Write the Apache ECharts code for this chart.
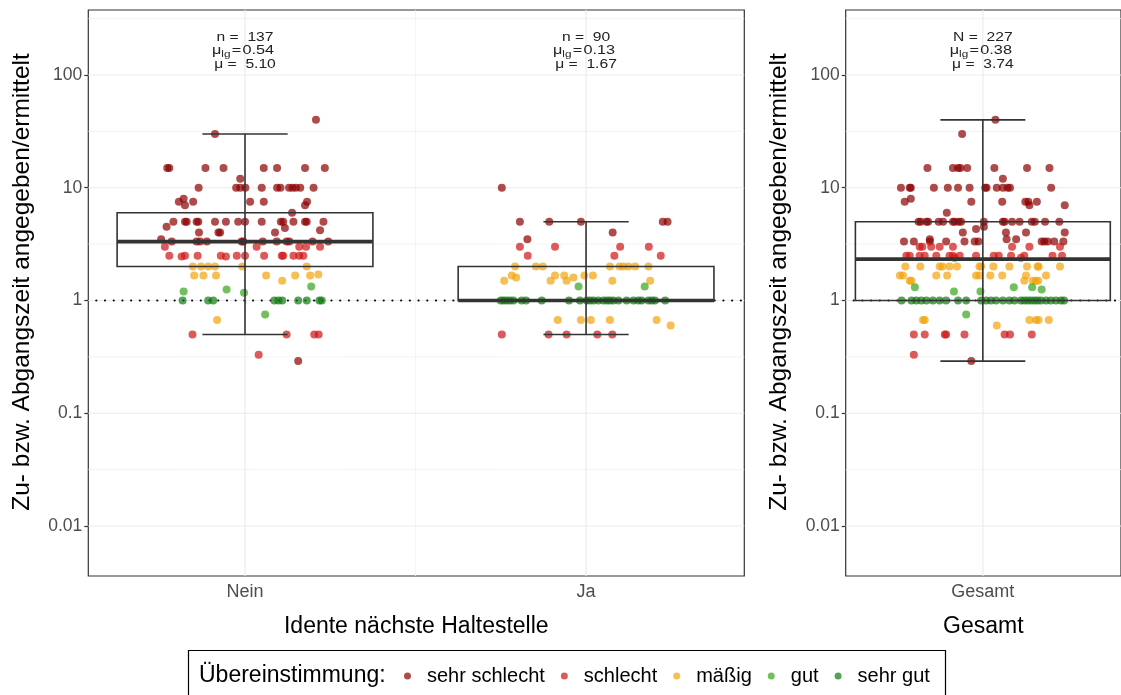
<!DOCTYPE html>
<html><head><meta charset="utf-8">
<script src="https://cdn.jsdelivr.net/npm/echarts@6/dist/echarts.min.js"></script>
<style>html,body{margin:0;padding:0;background:#fff}#c{width:1121px;height:695px}</style>
</head><body><div id="c"></div>
<script>
// ---------- data ----------
const categories = ['Nein', 'Ja'];
const totalCategory = ['Gesamt'];
const ratingNames = ['sehr schlecht', 'schlecht', 'mäßig', 'gut', 'sehr gut'];
const ratingColors = ['#8b0000', '#d01414', '#f2a30a', '#34a51a', '#0e7a0e'];
const yTickValues = [0.01, 0.1, 1, 10, 100];
const yTickLabels = ['0.01', '0.1', '1', '10', '100'];
const refValue = 1;
// box stats: [lower whisker, Q1, median, Q3, upper whisker]
const boxNein = [0.5, 2, 3.33, 6, 30];
const boxJa = [0.5, 1, 1, 2, 5];
const boxGesamt = [0.29, 1, 2.33, 5, 40];
const nLabels = ['n =  137', 'n =  90', 'N =  227'];
const muLgLabels = ['0.54', '0.13', '0.38'];
const muLabels = ['5.10', '1.67', '3.74'];
// jittered points: [horizontal jitter, value]
const nein_sehrSchlecht = [[0.208,40],[-0.088,30],
 [-0.228,15],[-0.222,15],[-0.116,15],[-0.063,15],[0.055,15],[0.094,15],[0.176,15],[0.234,15],
 [-0.014,12],
 [-0.136,10],[-0.026,10],[-0.014,10],[0.001,10],[0.049,10],[0.094,10],[0.104,10],[0.129,10],[0.139,10],[0.149,10],[0.162,10],[0.201,10],
 [-0.194,7.5],[-0.180,8],[-0.176,7],[-0.152,7.5],[0.015,7.5],[0.055,7.5],[0.182,7.5],[0.176,7],
 [0.138,6],
 [-0.210,5],[-0.176,5],[-0.171,5],[-0.142,5],[-0.137,5],[-0.088,5],[-0.056,5],[-0.020,5],[0,5],[0.049,5],[0.105,5],[0.112,5],[0.142,5],[0.176,5],[0.181,5],[0.230,5],
 [-0.230,4.5],[0.117,4.4],[0.220,4.2],
 [-0.135,4],[-0.073,4],[-0.078,4],[0.088,4],
 [-0.246,3.5],
 [-0.215,3.33],[-0.142,3.33],[-0.132,3.33],[-0.112,3.33],[-0.010,3.33],[-0.005,3.33],[0.052,3.33],[0.093,3.33],[0.122,3.33],[0.130,3.33],[0.198,3.33],[0.244,3.33],
 [0.156,0.29]];
const nein_schlecht = [[-0.235,3],[0.034,3],[0.159,3],[0.179,3],[0.220,3],
 [-0.222,2.5],[-0.186,2.45],[-0.176,2.5],[-0.139,2.5],[-0.071,2.5],[-0.056,2.45],[-0.024,2.5],[0,2.5],[0.056,2.5],[0.108,2.5],[0.112,2.5],[0.142,2.5],[0.159,2.5],[0.171,2.5],
 [-0.154,0.5],[0.122,0.5],[0.203,0.5],[0.216,0.5],
 [0.040,0.33]];
const nein_maessig = [[-0.153,2],[-0.129,2],[-0.108,2],[-0.088,2],[-0.008,2],[0.181,2],
 [-0.149,1.67],[-0.122,1.67],[-0.085,1.67],[0.062,1.67],[0.147,1.67],[0.191,1.67],[0.215,1.7],
 [0.109,1.5],[-0.082,0.67]];
const nein_gut = [[0.194,1.33],[-0.054,1.25],[-0.180,1.2],[-0.003,1.17],[0.059,0.75]];
const nein_sehrGut = [[-0.183,1],[-0.108,1],[-0.093,1],[0.086,1],[0.098,1],[0.109,1],[0.156,1],[0.181,1],[0.218,1],[0.225,1]];

const ja_sehrSchlecht = [[-0.247,10],[-0.194,5],[-0.108,5],[-0.015,5],[0.225,5],[0.239,5],[0.078,4],[-0.172,3.5]];
const ja_schlecht = [[-0.194,3],[-0.091,3],[0.100,3],[0.184,3],[-0.171,2.5],[0.083,2.5],[0.219,2.5],
 [-0.247,0.5],[-0.110,0.5],[-0.057,0.5],[0.033,0.5],[0.077,0.5]];
const ja_maessig = [[-0.208,2],[-0.147,2],[-0.127,2],[0.070,2],[0.098,2],[0.109,2],[0.124,2],[0.144,2],[0.183,2],
 [-0.218,1.67],[-0.091,1.67],[-0.064,1.67],[-0.037,1.6],[-0.005,1.67],[0.020,1.67],
 [-0.240,1.5],[-0.205,1.6],[-0.104,1.5],[-0.057,1.5],[0.077,1.5],[0.188,1.5],
 [-0.083,0.67],[-0.015,0.67],[0.014,0.67],[0.070,0.67],[0.207,0.67],[0.248,0.6]];
const ja_gut = [[-0.022,1.33],[0.172,1.33]];
const ja_sehrGut = [[-0.250,1],[-0.242,1],[-0.233,1],[-0.223,1],[-0.213,1],[-0.189,1],[-0.176,1],[-0.130,1],[-0.050,1],[-0.018,1],[0.002,1],[0.012,1],[0.022,1],[0.036,1],[0.051,1],[0.061,1],[0.070,1],[0.080,1],[0.095,1],[0.119,1],[0.139,1],[0.153,1],[0.163,1],[0.183,1],[0.193,1],[0.202,1],[0.232,1]];

const gesamt_sehrSchlecht = [[0.037,40],[-0.061,30],
 [-0.163,15],[-0.088,15],[-0.073,15],[-0.066,15],[-0.046,15],[0.034,15],[0.130,15],[0.196,15],
 [0.059,12],
 [-0.241,10],[-0.215,10],[-0.212,10],[-0.144,10],[-0.103,10],[-0.073,10],[-0.039,10],[0.007,10],[0.011,10],[0.041,10],[0.059,10],[0.073,10],[0.080,10],[0.201,10],
 [-0.230,7.5],[-0.212,8],[-0.034,7.5],[0.057,7.5],[0.125,7.5],[0.134,7.5],[0.137,7],[0.159,7.5],[0.241,7],
 [-0.106,6],
 [-0.189,5],[-0.183,5],[-0.166,5],[-0.161,5],[-0.130,5],[-0.117,5],[-0.088,5],[-0.083,5],[-0.071,5],[-0.064,5],[0.003,5],[0.059,5],[0.064,5],[0.086,5],[0.108,5],[0.144,5],[0.153,5],[0.183,5],[0.225,5],
 [-0.020,4.3],[0.003,4.5],
 [-0.059,4],[0.068,4],[0.127,4],[0.241,4],
 [-0.156,3.5],[0.070,3.5],[0.098,3.5],
 [-0.232,3.33],[-0.203,3.33],[-0.156,3.33],[-0.108,3.33],[-0.054,3.33],[-0.024,3.33],[-0.013,3.33],[0.173,3.33],[0.181,3.33],[0.191,3.33],[0.210,3.33],[0.237,3.33],
 [-0.034,0.29]];
const gesamt_schlecht = [[-0.186,3],[-0.178,3],[-0.152,3],[-0.127,3],[-0.088,3],[0.086,3],[0.137,3],[0.227,3],
 [-0.225,2.5],[-0.215,2.5],[-0.186,2.5],[-0.171,2.5],[-0.137,2.5],[-0.098,2.5],[-0.088,2.5],[-0.068,2.5],[-0.020,2.5],[0.032,2.5],[0.047,2.5],[0.083,2.5],[0.122,2.5],[0.205,2.5],[0.233,2.5],[-0.083,2.4],[0.112,2.4],
 [-0.203,0.5],[-0.171,0.5],[-0.112,0.5],[-0.108,0.5],[-0.054,0.5],[0.064,0.5],[0.080,0.5],[0.144,0.5],
 [-0.203,0.33]];
const gesamt_maessig = [[-0.228,2],[-0.184,2],[-0.127,2],[-0.119,2],[-0.098,2],[-0.076,2],[-0.010,2],[-0.005,2],[0.031,2],[0.078,2],[0.130,2],[0.161,2],[0.164,2],[0.227,2],
 [-0.244,1.67],[-0.235,1.67],[-0.137,1.67],[-0.105,1.67],[-0.020,1.67],[-0.010,1.67],[0.022,1.67],[0.057,1.67],[0.127,1.67],[0.186,1.67],
 [-0.215,1.5],[-0.210,1.5],[0.122,1.5],[0.147,1.5],[0.156,1.5],[0.163,1.5],
 [-0.176,0.67],[-0.171,0.67],[0.137,0.67],[0.156,0.67],[0.164,0.67],[0.194,0.67],[0.041,0.6]];
const gesamt_gut = [[-0.200,1.31],[0.091,1.31],[0.145,1.31],[-0.085,1.2],[-0.007,1.2],[0.173,1.25],[-0.049,0.75]];
const gesamt_sehrGut = [[-0.239,1],[-0.210,1],[-0.196,1],[-0.181,1],[-0.166,1],[-0.147,1],[-0.127,1],[-0.108,1],[-0.073,1],[-0.049,1],[-0.005,1],[0.010,1],[0.024,1],[0.039,1],[0.059,1],[0.078,1],[0.093,1],[0.112,1],[0.122,1],[0.132,1],[0.142,1],[0.152,1],[0.161,1],[0.171,1],[0.186,1],[0.200,1],[0.215,1],[0.230,1],[0.239,1]];

// ---------- helpers ----------
const L = Math.log10;
const FONT = "'Liberation Sans', Arial, sans-serif";
const BOX_W = 0.75, CAP_W = 0.25;
const Y_MIN = -2.4435, Y_MAX = 2.5765;
const panels = [
  { grid: 0, positions: [1, 2], boxes: [boxNein, boxJa], labelIdx: [0, 1],
    groups: [[nein_sehrSchlecht, nein_schlecht, nein_maessig, nein_gut, nein_sehrGut],
             [ja_sehrSchlecht, ja_schlecht, ja_maessig, ja_gut, ja_sehrGut]] },
  { grid: 1, positions: [1], boxes: [boxGesamt], labelIdx: [2],
    groups: [[gesamt_sehrSchlecht, gesamt_schlecht, gesamt_maessig, gesamt_gut, gesamt_sehrGut]] }
];

function renderHGrid(params, api) {
  const cs = params.coordSys;
  const y = api.coord([api.value(0), api.value(1)])[1];
  const major = api.value(2) === 1;
  return { type: 'line', shape: { x1: cs.x, y1: y, x2: cs.x + cs.width, y2: y },
    style: { stroke: major ? '#ebebeb' : '#f0f0f0', lineWidth: major ? 1.2 : 0.8 } };
}
function renderVGrid(params, api) {
  const cs = params.coordSys;
  const x = api.coord([api.value(0), api.value(1)])[0];
  const major = api.value(2) === 1;
  return { type: 'line', shape: { x1: x, y1: cs.y, x2: x, y2: cs.y + cs.height },
    style: { stroke: major ? '#ebebeb' : '#f0f0f0', lineWidth: major ? 1.2 : 0.8 } };
}
function renderRef(params, api) {
  const cs = params.coordSys;
  const y = api.coord([api.value(0), api.value(1)])[1];
  return { type: 'line', shape: { x1: cs.x + 8, y1: y, x2: cs.x + cs.width, y2: y },
    style: { stroke: '#000', lineWidth: 2.2, lineDash: [0.01, 8.7], lineCap: 'round' } };
}
function renderBox(params, api) {
  const x = api.value(0);
  const lo = api.coord([x, api.value(1)]);
  const q1 = api.coord([x, api.value(2)]);
  const md = api.coord([x, api.value(3)]);
  const q3 = api.coord([x, api.value(4)]);
  const hi = api.coord([x, api.value(5)]);
  const bw = api.size([BOX_W, 0])[0];
  const cw = api.size([CAP_W, 0])[0];
  const st = { stroke: '#333', lineWidth: 1.6, fill: 'none' };
  return { type: 'group', children: [
    { type: 'line', shape: { x1: lo[0], y1: lo[1], x2: hi[0], y2: hi[1] }, style: st },
    { type: 'line', shape: { x1: hi[0] - cw / 2, y1: hi[1], x2: hi[0] + cw / 2, y2: hi[1] }, style: st },
    { type: 'line', shape: { x1: lo[0] - cw / 2, y1: lo[1], x2: lo[0] + cw / 2, y2: lo[1] }, style: st },
    { type: 'rect', shape: { x: q3[0] - bw / 2, y: q3[1], width: bw, height: q1[1] - q3[1] }, style: st },
    { type: 'line', shape: { x1: md[0] - bw / 2, y1: md[1], x2: md[0] + bw / 2, y2: md[1] },
      style: { stroke: '#333', lineWidth: 3.6 } }
  ] };
}
function renderNote(params, api) {
  const cs = params.coordSys;
  const x = api.coord([api.value(0), 0])[0];
  const i = api.value(1);
  const common = { fill: '#222', fontFamily: FONT, fontSize: 12.5, align: 'center', verticalAlign: 'middle' };
  return { type: 'group', children: [
    { type: 'text', x: x, y: cs.y + 27.5, scaleX: 1.25,
      style: Object.assign({ text: nLabels[i] }, common) },
    { type: 'text', x: x - 2, y: cs.y + 41, scaleX: 1.3,
      style: Object.assign({}, common, {
        text: '{m|μ}{s|lg}{e|=}{v|' + muLgLabels[i] + '}',
        rich: { m: { fontSize: 12.5, fontFamily: FONT, fill: '#222', lineHeight: 16, verticalAlign: 'middle' },
                s: { fontSize: 9, fontFamily: FONT, fill: '#222', lineHeight: 9, verticalAlign: 'bottom' },
                e: { fontSize: 12.5, fontFamily: FONT, fill: '#222', lineHeight: 16, padding: [0, 1, 0, 1] },
                v: { fontSize: 12.5, fontFamily: FONT, fill: '#222', lineHeight: 16 } } }) },
    { type: 'text', x: x, y: cs.y + 54.5, scaleX: 1.25,
      style: Object.assign({ text: 'μ =  ' + muLabels[i] }, common) }
  ] };
}

const series = [];
panels.forEach(function (p) {
  const hData = [];
  yTickValues.forEach(function (t) { hData.push([p.positions[0], L(t), 1]); });
  for (let k = 0; k < yTickValues.length; k++) {
    const mid = k === 0 ? L(yTickValues[0]) - 0.5 : (L(yTickValues[k - 1]) + L(yTickValues[k])) / 2;
    if (mid > Y_MIN) hData.push([p.positions[0], mid, 0]);
  }
  const top = L(yTickValues[yTickValues.length - 1]) + 0.5;
  if (top < Y_MAX) hData.push([p.positions[0], top, 0]);
  const vData = p.positions.map(function (x) { return [x, 0, 1]; });
  for (let k = 1; k < p.positions.length; k++) vData.push([(p.positions[k - 1] + p.positions[k]) / 2, 0, 0]);
  series.push({ type: 'custom', xAxisIndex: p.grid, yAxisIndex: p.grid, z: 1, silent: true,
    renderItem: renderHGrid, data: hData, encode: { x: 0, y: 1 } });
  series.push({ type: 'custom', xAxisIndex: p.grid, yAxisIndex: p.grid, z: 1, silent: true,
    renderItem: renderVGrid, data: vData, encode: { x: 0, y: 1 } });
  series.push({ type: 'custom', xAxisIndex: p.grid, yAxisIndex: p.grid, z: 2, silent: true,
    renderItem: renderRef, data: [[p.positions[0], L(refValue)]], encode: { x: 0, y: 1 } });
  ratingNames.forEach(function (name, r) {
    const d = [];
    p.groups.forEach(function (g, gi) {
      g[r].forEach(function (pt) { d.push([p.positions[gi] + pt[0], L(pt[1])]); });
    });
    series.push({ type: 'scatter', name: name, xAxisIndex: p.grid, yAxisIndex: p.grid, z: 3,
      symbol: 'circle', symbolSize: 8, data: d,
      itemStyle: { color: ratingColors[r], opacity: 0.7 } });
  });
  series.push({ type: 'custom', xAxisIndex: p.grid, yAxisIndex: p.grid, z: 4, silent: true,
    renderItem: renderBox, encode: { x: 0, y: [1, 2, 3, 4, 5] },
    data: p.boxes.map(function (b, i) { return [p.positions[i]].concat(b.map(L)); }) });
  series.push({ type: 'custom', xAxisIndex: p.grid, yAxisIndex: p.grid, z: 5, silent: true,
    renderItem: renderNote, encode: { x: 0 },
    data: p.positions.map(function (x, i) { return [x, p.labelIdx[i]]; }) });
});

function yAxisDef(gridIndex) {
  return { type: 'value', gridIndex: gridIndex, min: Y_MIN, max: Y_MAX,
    name: 'Zu- bzw. Abgangszeit angegeben/ermittelt', nameLocation: 'middle', nameGap: 54,
    nameTextStyle: { fontSize: 24.5, color: '#000', fontFamily: FONT, padding: [0, 0, 0, 22] },
    axisLine: { show: false }, splitLine: { show: false },
    axisTick: { show: true, length: 4, lineStyle: { color: '#333', width: 1.2 }, customValues: yTickValues.map(L) },
    axisLabel: { color: '#4d4d4d', fontSize: 17.5, margin: 6, fontFamily: FONT,
      customValues: yTickValues.map(L),
      formatter: function (v) {
        const i = yTickValues.findIndex(function (t) { return Math.abs(L(t) - v) < 1e-6; });
        return i >= 0 ? yTickLabels[i] : '';
      } } };
}
function xAxisDef(gridIndex, min, max, labels, title) {
  return { type: 'value', gridIndex: gridIndex, min: min, max: max,
    name: title, nameLocation: 'middle', nameGap: 39,
    nameTextStyle: { fontSize: 23, color: '#000', fontFamily: FONT },
    axisLine: { show: false }, splitLine: { show: false },
    axisTick: { show: true, length: 4, lineStyle: { color: '#333', width: 1.2 }, customValues: labels.map(function (_, i) { return i + 1; }) },
    axisLabel: { color: '#4d4d4d', fontSize: 18, margin: 7, fontFamily: FONT,
      customValues: labels.map(function (_, i) { return i + 1; }),
      formatter: function (v) { return labels[Math.round(v) - 1] || ''; } } };
}

const option = {
  animation: false,
  backgroundColor: '#fff',
  textStyle: { fontFamily: FONT },
  grid: [
    { left: 88.3, top: 10, width: 656, height: 566, show: true, borderColor: '#333', borderWidth: 1.2, backgroundColor: '#fff' },
    { left: 845.7, top: 10, width: 276.5, height: 566, show: true, borderColor: '#333', borderWidth: 1.2, backgroundColor: '#fff' }
  ],
  xAxis: [xAxisDef(0, 0.5405, 2.464, categories, 'Idente nächste Haltestelle'),
          xAxisDef(1, 0.5965, 1.4065, totalCategory, 'Gesamt')],
  yAxis: [yAxisDef(0), yAxisDef(1)],
  legend: { data: ratingNames, left: 399, top: 661, icon: 'circle', itemWidth: 7, itemHeight: 7,
    itemGap: 16, textStyle: { fontSize: 20, color: '#000', fontFamily: FONT, padding: [0, 0, 0, 11] } },
  graphic: [
    { type: 'rect', left: 186, top: 648, shape: { width: 757, height: 60 },
      style: { fill: 'none', stroke: '#000', lineWidth: 1.2 }, silent: true },
    { type: 'text', left: 199, top: 664, style: { text: 'Übereinstimmung:', fontSize: 23, fill: '#000', fontFamily: FONT } }
  ],
  series: series
};
const chart = echarts.init(document.getElementById('c'), null, { renderer: 'canvas' });
chart.setOption(option);
</script></body></html>
